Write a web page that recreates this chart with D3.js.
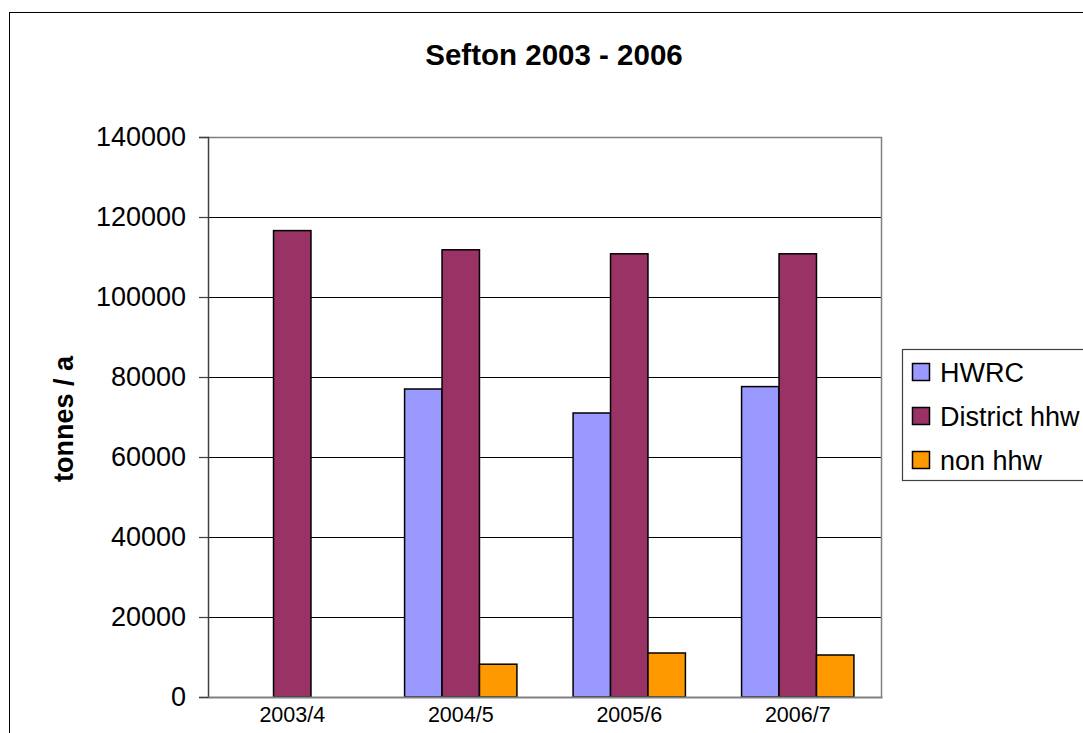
<!DOCTYPE html>
<html><head><meta charset="utf-8">
<script src="https://cdn.jsdelivr.net/npm/d3@7"></script>
<style>
html,body{margin:0;padding:0;background:#fff;}
svg{display:block;font-family:"Liberation Sans",Arial,sans-serif;}
</style></head>
<body>
<svg id="chart" width="1083" height="733"></svg>
<script>
const categories = ["2003/4", "2004/5", "2005/6", "2006/7"];
const seriesNames = ["HWRC", "District hhw", "non hhw"];
const hwrc = [null, 77000, 71000, 77600];
const districtHhw = [116600, 111800, 110800, 110800];
const nonHhw = [null, 8200, 11000, 10500];
const yTicks = [0, 20000, 40000, 60000, 80000, 100000, 120000, 140000];
const colors = ["#9999FF", "#993366", "#FF9900"];

(function () {
const seriesValues = [hwrc, districtHhw, nonHhw];
const svg = d3.select("#chart");

// outer chart border
svg.append("rect").attr("x", 9.5).attr("y", 12.5).attr("width", 1100).attr("height", 760)
  .attr("fill", "none").attr("stroke", "#000").attr("stroke-width", 1);

const pL = 208, pR = 882, pT = 137, pB = 697;
const x = d3.scaleBand().domain(categories).range([pL, pR]).paddingInner(0).paddingOuter(0);
const y = d3.scaleLinear().domain([0, 140000]).range([pB, pT]);
const x1 = d3.scaleBand().domain(d3.range(3)).range([0, x.bandwidth()]).paddingInner(0).paddingOuter(0.75);

// gridlines
svg.append("g").selectAll("line").data(yTicks.filter(d => d > 0)).join("line")
  .attr("x1", pL).attr("x2", pR)
  .attr("y1", d => Math.round(y(d)) + 0.5).attr("y2", d => Math.round(y(d)) + 0.5)
  .attr("stroke", "#000").attr("stroke-width", 1);

// plot border (top, right)
svg.append("path").attr("d", `M${pL},${pT + 0.5}H${pR - 0.5}V${pB}`)
  .attr("fill", "none").attr("stroke", "#808080").attr("stroke-width", 1.5);

// bars
const data = [];
categories.forEach((c, i) => seriesValues.forEach((s, j) => {
  if (s[i] != null) data.push({ c, j, v: s[i] });
}));
svg.append("g").selectAll("rect").data(data).join("rect")
  .attr("x", d => x(d.c) + x1(d.j))
  .attr("y", d => y(d.v))
  .attr("width", x1.bandwidth())
  .attr("height", d => pB - y(d.v))
  .attr("fill", d => colors[d.j])
  .attr("stroke", "#000").attr("stroke-width", 1.5);

// y axis
const yAxis = d3.axisLeft(y).tickValues(yTicks).tickSize(9).tickPadding(13).tickFormat(d3.format("d"));
const gy = svg.append("g").attr("transform", `translate(${pL},0)`).call(yAxis);
gy.select(".domain").attr("stroke", "#404040").attr("stroke-width", 1.5);
gy.selectAll(".tick line").attr("stroke", "#404040").attr("stroke-width", 1.2);
gy.selectAll("text").attr("font-size", 27).attr("fill", "#000").attr("font-family", "Liberation Sans, Arial, sans-serif");

// x axis
const xAxis = d3.axisBottom(x).tickSize(0).tickPadding(10);
const gx = svg.append("g").attr("transform", `translate(0,${pB})`).call(xAxis);
gx.select(".domain").attr("stroke", "#808080").attr("stroke-width", 2);
gx.selectAll("text").attr("font-size", 21.5).attr("fill", "#000").attr("font-family", "Liberation Sans, Arial, sans-serif");

// title
svg.append("text").attr("x", 554).attr("y", 65).attr("text-anchor", "middle")
  .attr("font-size", 29.5).attr("font-weight", "bold").text("Sefton 2003 - 2006");

// y axis title
svg.append("text").attr("transform", "translate(73,419) rotate(-90)").attr("text-anchor", "middle")
  .attr("font-size", 27).attr("font-weight", "bold").text("tonnes / a");

// legend
const lg = svg.append("g");
lg.append("rect").attr("x", 902.5).attr("y", 349.5).attr("width", 300).attr("height", 131)
  .attr("fill", "#fff").attr("stroke", "#404040").attr("stroke-width", 1.2);
const items = lg.selectAll("g.item").data(seriesNames).join("g").attr("class", "item")
  .attr("transform", (d, i) => `translate(0,${372 + i * 44})`);
items.append("rect").attr("x", 912.5).attr("y", -8.5).attr("width", 17).attr("height", 17)
  .attr("fill", (d, i) => colors[i]).attr("stroke", "#000").attr("stroke-width", 1.5);
items.append("text").attr("x", 940).attr("y", 10).attr("font-size", 27).text(d => d);
})();
</script>
</body></html>
